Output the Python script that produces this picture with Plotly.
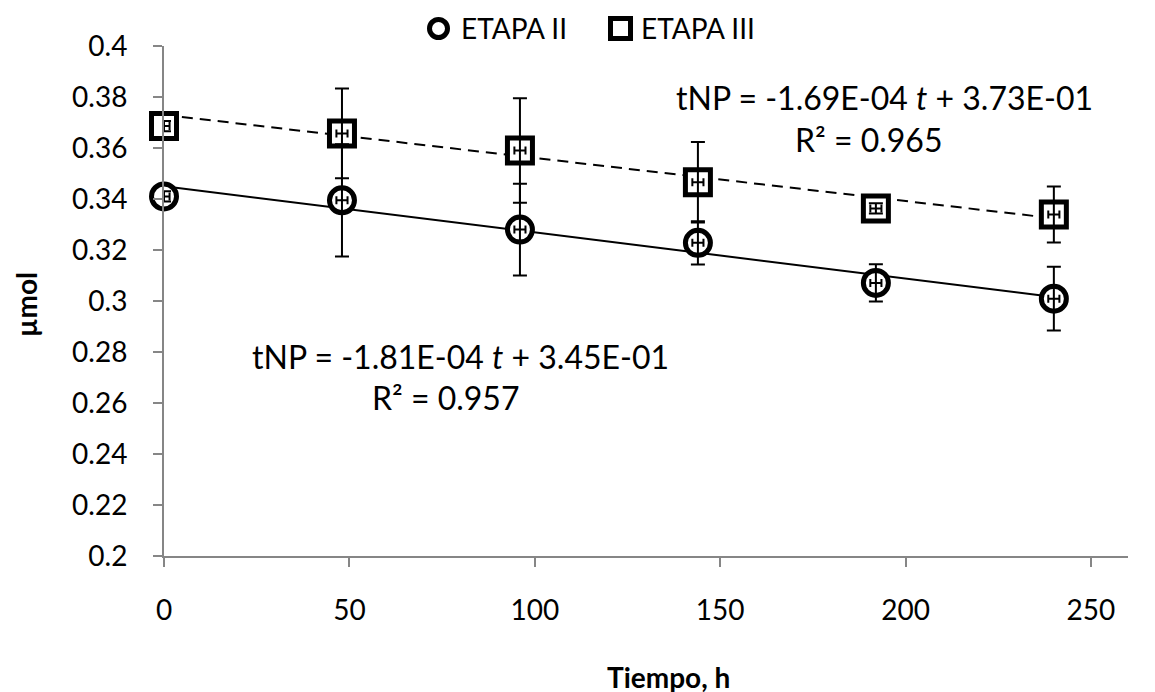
import numpy as np
import plotly.graph_objects as go

# %% Data
tiempo = [0, 48, 96, 144, 192, 240]

etapa2 = [0.341, 0.3395, 0.328, 0.3228, 0.3071, 0.3009]
etapa2_err = [0.002, 0.022, 0.018, 0.0085, 0.0073, 0.0125]

etapa3 = [0.3686, 0.3657, 0.359, 0.3466, 0.3363, 0.3339]
etapa3_err = [0.002, 0.0176, 0.0205, 0.0158, 0.002, 0.011]

t_err = [1.5, 1.5, 1.5, 1.5, 1.5, 1.5]

# trendline coefficients (as printed on the chart)
fit2 = (-1.81e-04, 3.45e-01, 0.957)
fit3 = (-1.69e-04, 3.73e-01, 0.965)

FONT = "Lato"
W, H = 1155, 692
OFF = 8  # page body margin in the screenshot
L, R, T, B = 156, 35, 38, 144
t = np.array(tiempo)


# screenshot pixel -> paper helpers (for legend / titles placed outside the plot area)
def px(x):
    return (x - OFF - L) / (W - L - R)


def py(y):
    return (H - B - (y - OFF)) / (H - T - B)


fig = go.Figure()

# %% trendlines
fig.add_trace(go.Scatter(x=t, y=fit2[0] * t + fit2[1], mode="lines",
                         line=dict(color="black", width=2), showlegend=False, hoverinfo="skip"))
fig.add_trace(go.Scatter(x=t, y=fit3[0] * t + fit3[1], mode="lines",
                         line=dict(color="black", width=2, dash="11px,7px"), showlegend=False, hoverinfo="skip"))

# %% markers
for ys, sym, name in [(etapa2, "circle", "ETAPA II"), (etapa3, "square", "ETAPA III")]:
    fig.add_trace(go.Scatter(x=tiempo, y=ys, mode="markers", name=name, showlegend=False,
                             cliponaxis=False,
                             marker=dict(symbol=sym, size=25, color="white",
                                         line=dict(color="black", width=5))))

# %% error bars on top of the markers
for ys, errs in [(etapa2, etapa2_err), (etapa3, etapa3_err)]:
    fig.add_trace(go.Scatter(
        x=tiempo, y=ys, mode="markers", showlegend=False, hoverinfo="skip", cliponaxis=False,
        marker=dict(size=1, opacity=0),
        error_y=dict(type="data", array=errs, visible=True, color="black", thickness=2, width=7),
        error_x=dict(type="data", array=t_err, visible=True, color="black", thickness=2, width=4),
    ))

# %% regression equations
def eq_text(fit):
    return "tNP = %.2fE-04 <i>t</i> + %.2fE-01" % (fit[0] * 1e4, fit[1] * 10)

annots = [
    (194.3, 0.3798, eq_text(fit3)),
    (190.0, 0.3633, "R² = %.3f" % fit3[2]),
    (79.9, 0.2782, eq_text(fit2)),
    (75.8, 0.2622, "R² = %.3f" % fit2[2]),
]
for ax_, ay_, txt in annots:
    fig.add_annotation(x=ax_, y=ay_, text=txt, showarrow=False, xanchor="center", yanchor="middle",
                       font=dict(family=FONT, size=32, color="black"))

# %% axis titles
fig.add_annotation(x=px(668), y=py(677), xref="paper", yref="paper", text="<b>Tiempo, h</b>",
                   xanchor="center", yanchor="middle",
                   showarrow=False, font=dict(family=FONT, size=28, color="black"))
fig.add_annotation(x=px(26), y=py(305), xref="paper", yref="paper", text="<b>µmol</b>", textangle=-90,
                   xanchor="center", yanchor="middle",
                   showarrow=False, font=dict(family=FONT, size=28, color="black"))

# %% hand-drawn legend (bold symbols like the original)
fig.add_shape(type="circle", xref="paper", yref="paper", x0=px(429.5), x1=px(447.5),
              y0=py(19.5), y1=py(37.5), line=dict(color="black", width=5), fillcolor="white")
fig.add_shape(type="rect", xref="paper", yref="paper", x0=px(610.5), x1=px(630.5),
              y0=py(18.5), y1=py(38.5), line=dict(color="black", width=5), fillcolor="white")
for x0, txt in [(459, "ETAPA II"), (639, "ETAPA III")]:
    fig.add_annotation(x=px(x0), y=py(28), xref="paper", yref="paper", text=txt, showarrow=False,
                       xanchor="left", yanchor="middle", font=dict(family=FONT, size=28, color="black"))

axis_common = dict(showline=True, linecolor="#868686", linewidth=2, ticks="outside",
                   tickcolor="#868686", ticklen=9, tickwidth=2, showgrid=False, zeroline=False,
                   automargin=False, tickfont=dict(family=FONT, size=28, color="black"))

fig.update_layout(
    width=W, height=H,
    margin=dict(l=L, r=R, t=T, b=B, autoexpand=False),
    plot_bgcolor="white", paper_bgcolor="white",
    xaxis=dict(range=[0, 260], tickvals=[0, 50, 100, 150, 200, 250], ticklabelstandoff=19,
               **axis_common),
    yaxis=dict(range=[0.2, 0.4], dtick=0.02, tickformat="~g", ticklabelstandoff=20,
               **axis_common),
    showlegend=False,
)

fig.write_html("out.html")
